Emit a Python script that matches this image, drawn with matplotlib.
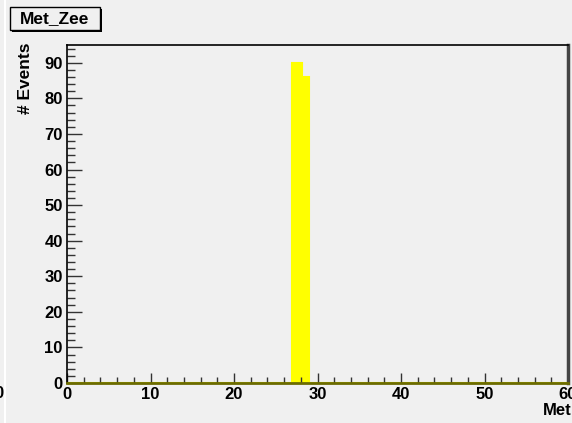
import matplotlib.pyplot as plt
from matplotlib.patches import Rectangle
from matplotlib.ticker import MultipleLocator

# Met_Zee histogram contents (only two filled bins)
bin_edges = [0.0, 26.9, 28.1, 29.0, 60.0]
counts = [0, 90, 86, 0]

title = "Met_Zee"
x_label = "Met"
y_label = "# Events"

bg = "#f0f0f0"
plt.rcParams['font.family'] = ['Liberation Sans', 'DejaVu Sans']
plt.rcParams['font.weight'] = 'bold'

fig = plt.figure(figsize=(5.72, 4.23), dpi=100, facecolor=bg)
ax = fig.add_axes([67 / 572, 1 - 383 / 423, 501 / 572, 338 / 423], facecolor=bg)

ax.stairs(counts, bin_edges, fill=True, color="#ffff00", linewidth=0)
ax.stairs(counts, bin_edges, fill=False, color="#ffff00", linewidth=1.5)

ax.set_xlim(0, 60)
ax.set_ylim(0, 95)

ax.xaxis.set_major_locator(MultipleLocator(10))
ax.xaxis.set_minor_locator(MultipleLocator(2))
ax.yaxis.set_major_locator(MultipleLocator(10))
ax.yaxis.set_minor_locator(MultipleLocator(2))

ax.tick_params(axis='both', which='both', direction='in', top=False, right=False,
               color='#333333', width=1)
ax.tick_params(axis='x', which='major', length=7.5, pad=3, labelsize=12)
ax.tick_params(axis='x', which='minor', length=4)
ax.tick_params(axis='y', which='major', length=11, pad=3, labelsize=12)
ax.tick_params(axis='y', which='minor', length=5.5)
for lbl in ax.get_xticklabels() + ax.get_yticklabels():
    lbl.set_fontweight('heavy')

ax.spines['left'].set_color('black')
ax.spines['left'].set_linewidth(1.2)
ax.spines['top'].set_color('black')
ax.spines['top'].set_linewidth(1.2)
ax.spines['right'].set_color('#444444')
ax.spines['right'].set_linewidth(2.5)
ax.spines['bottom'].set_color('#6b6b00')
ax.spines['bottom'].set_linewidth(2)

# axis titles, ROOT style
fig.text(1.0, 1 - 415 / 423, x_label, ha='right', va='baseline',
         fontsize=12, fontweight='heavy')
fig.text(26 / 572, 1 - 43 / 423, y_label, rotation=90, ha='center', va='top',
         fontsize=12.5, fontweight='heavy')

# stray label clipped at the left edge of the canvas
fig.text(-6 / 572, 1 - 398 / 423, "0", ha='left', va='baseline',
         fontsize=12, fontweight='heavy')
fig.add_artist(plt.Line2D([4.5 / 572, 4.5 / 572], [0, 1], color='white',
                          linewidth=1.5, transform=fig.transFigure))

# title box with drop shadow
W, H = 572, 423
fig.patches.append(Rectangle((12 / W, 1 - 32 / H), 90 / W, 23 / H,
                             transform=fig.transFigure, facecolor='black',
                             edgecolor='none', zorder=3))
fig.patches.append(Rectangle((10 / W, 1 - 30 / H), 90 / W, 23 / H,
                             transform=fig.transFigure, facecolor=bg,
                             edgecolor='black', linewidth=1, zorder=4))
fig.text(55 / W, 1 - 18.5 / H, title, ha='center', va='center',
         fontsize=12.5, fontweight='heavy', zorder=5)

fig.savefig("out.png", dpi=100, facecolor=bg)
